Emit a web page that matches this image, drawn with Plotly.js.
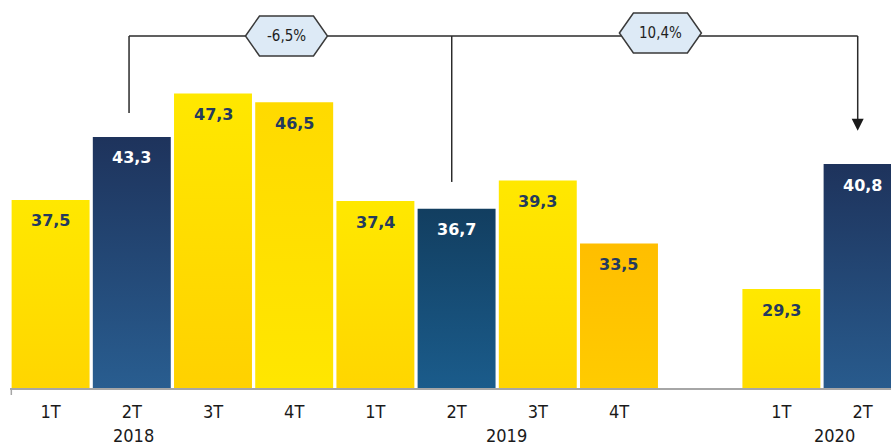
<!DOCTYPE html>
<html>
<head>
<meta charset="utf-8">
<script src="https://cdn.plot.ly/plotly-3.0.1.min.js"></script>
<style>
  html, body { margin: 0; padding: 0; background: #fff; }
  #chart { width: 891px; height: 445px; }
</style>
</head>
<body>
<div id="chart"></div>
<script>
// Quarterly values, one empty slot between 2019 and 2020
var slots = ["1T 2018", "2T 2018", "3T 2018", "4T 2018",
             "1T 2019", "2T 2019", "3T 2019", "4T 2019",
             "gap", "1T 2020", "2T 2020"];
var quarters = ["1T", "2T", "3T", "4T", "1T", "2T", "3T", "4T", "", "1T", "2T"];
var values = [37.5, 43.3, 47.3, 46.5, 37.4, 36.7, 39.3, 33.5, null, 29.3, 40.8];
var years = ["2018", "2019", "2020"];
var changes = ["-6,5%", "10,4%"];

// gradient used for each bar (style, not data)
var barFills = ["yellow", "blue", "yellow", "yellowMid", "yellow", "blueB",
                "yellow", "yellowRev", "yellow", "yellow", "blue"];
var gradients = {
  yellow:    [["0%", "#FFE800"], ["100%", "#FFC000"]],
  yellowMid: [["0%", "#FFDA00"], ["74%", "#FFEA00"], ["100%", "#FFC400"]],
  yellowRev: [["0%", "#FFBE00"], ["100%", "#FFDF00"]],
  blue:      [["0%", "#1E335C"], ["100%", "#3282BD"]],
  blueB:     [["0%", "#123E60"], ["100%", "#2580C0"]]
};

var fmt = function(v) { return v.toFixed(1).replace(".", ","); };

var trace = {
  x: slots,
  y: values,
  type: "bar",
  marker: { color: barFills.map(f => gradients[f][0][1]), line: { width: 0 } },
  hoverinfo: "none"
};

// value labels inside the top of each bar
var annotations = [];
values.forEach(function(v, i) {
  if (v === null) return;
  annotations.push({
    x: slots[i], y: v, xref: "x", yref: "y",
    text: fmt(v), showarrow: false, yshift: -21, yanchor: "middle",
    font: { family: "DejaVu Sans", size: 16, weight: "bold",
            color: barFills[i].indexOf("blue") === 0 ? "#ffffff" : "#243A5E" }
  });
});

// year labels under the quarters
var yearPos = [1.02, 5.62, 9.66];
years.forEach(function(y, i) {
  annotations.push({
    x: yearPos[i], y: 0, xref: "x", yref: "paper", yshift: -47, yanchor: "middle",
    text: y, showarrow: false, borderpad: 0,
    font: { family: "DejaVu Sans Condensed", size: 18, color: "#1a1a1a" }
  });
});

// connector: 2T 2018 -> 2T 2019 -> 2T 2020
var lineY = 52.59;
var lineStyle = { color: "#2b2b2b", width: 1.5 };
var shapes = [
  { type: "line", xref: "x", yref: "y", x0: 0.966, x1: 0.966, y0: 45.5, y1: lineY, line: lineStyle },
  { type: "line", xref: "x", yref: "y", x0: 0.966, x1: 9.94, y0: lineY, y1: lineY, line: lineStyle },
  { type: "line", xref: "x", yref: "y", x0: 4.94, x1: 4.94, y0: 39.16, y1: lineY, line: lineStyle },
  { type: "line", xref: "x", yref: "y", x0: 9.94, x1: 9.94, y0: 44.9, y1: lineY, line: lineStyle },
  { type: "path", xref: "x", yref: "y", xsizemode: "pixel", ysizemode: "pixel",
    xanchor: 9.94, yanchor: 43.88, path: "M -6 12 L 6 12 L 0 0 Z",
    fillcolor: "#1a1a1a", line: { width: 0 } },
  // left tick at the axis start
  { type: "line", xref: "paper", yref: "paper", x0: 0.0015, x1: 0.0015, y0: 0, y1: -0.018,
    line: { color: "#a6a6a6", width: 1.5 } }
];

// hexagon badges with the % changes
var hexPos = [[2.905, 52.59], [7.51, 52.86]];
changes.forEach(function(c, i) {
  shapes.push({
    type: "path", xref: "x", yref: "y", xsizemode: "pixel", ysizemode: "pixel",
    xanchor: hexPos[i][0], yanchor: hexPos[i][1],
    path: "M -41 0 L -27 20 L 27 20 L 41 0 L 27 -20 L -27 -20 Z",
    fillcolor: "#DDEAF6", line: { color: "#3a3a3a", width: 1.5 }
  });
  annotations.push({
    x: hexPos[i][0], y: hexPos[i][1], xref: "x", yref: "y",
    text: c, showarrow: false, yanchor: "middle",
    font: { family: "DejaVu Sans Condensed", size: 15, color: "#1f1f1f" }
  });
});

var layout = {
  width: 891,
  height: 445,
  margin: { l: 10, r: 0, t: 0, b: 57 },
  paper_bgcolor: "#ffffff",
  plot_bgcolor: "#ffffff",
  showlegend: false,
  bargap: 0.04,
  xaxis: {
    type: "category",
    categoryorder: "array",
    categoryarray: slots,
    range: [-0.5, 10.35],
    tickvals: slots,
    ticktext: quarters,
    ticks: "",
    ticklabelstandoff: 6,
    showline: true,
    linecolor: "#a6a6a6",
    linewidth: 2,
    showgrid: false,
    zeroline: false,
    tickfont: { family: "DejaVu Sans Condensed", size: 18, color: "#1a1a1a" }
  },
  yaxis: { range: [20.2, 55.9], visible: false, showgrid: false, zeroline: false },
  shapes: shapes,
  annotations: annotations
};

Plotly.newPlot("chart", [trace], layout, { staticPlot: true }).then(function(gd) {
  var ns = "http://www.w3.org/2000/svg";
  var svg = gd.querySelector(".main-svg");
  var defs = svg.querySelector("defs") || svg.insertBefore(document.createElementNS(ns, "defs"), svg.firstChild);
  Object.keys(gradients).forEach(function(name) {
    var g = document.createElementNS(ns, "linearGradient");
    g.setAttribute("id", "grad-" + name);
    g.setAttribute("x1", "0"); g.setAttribute("y1", "0");
    g.setAttribute("x2", "0"); g.setAttribute("y2", "1");
    gradients[name].forEach(function(s) {
      var st = document.createElementNS(ns, "stop");
      st.setAttribute("offset", s[0]);
      st.setAttribute("stop-color", s[1]);
      g.appendChild(st);
    });
    defs.appendChild(g);
  });
  gd.querySelectorAll(".trace.bars .point path").forEach(function(p) {
    var d = p.parentNode.__data__;
    if (!d || d.i === undefined) return;
    p.style.fill = "url(#grad-" + barFills[d.i] + ")";
  });
});
</script>
</body>
</html>
